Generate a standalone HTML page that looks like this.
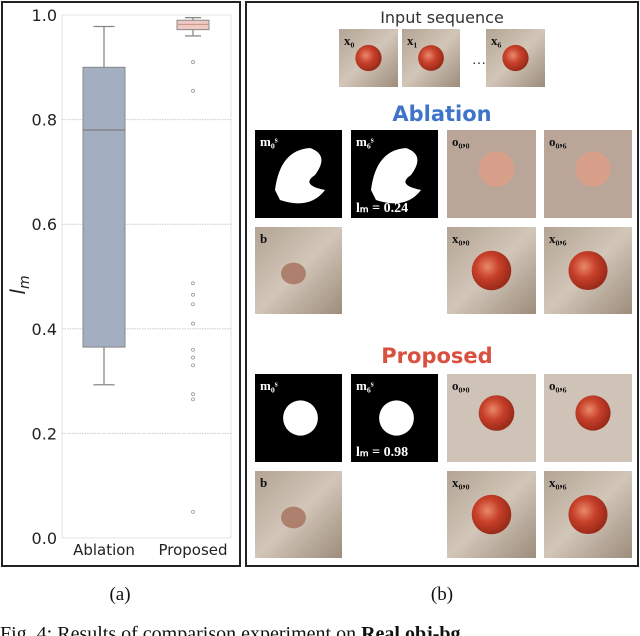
<!DOCTYPE html>
<html><head><meta charset="utf-8"><style>
body{margin:0;background:#fff;width:640px;height:636px;overflow:hidden}
svg{display:block}
.t{font-family:"DejaVu Sans","Liberation Sans",sans-serif}
.s{font-family:"Liberation Serif",serif}
</style></head><body>
<svg width="640" height="636" viewBox="0 0 640 636">
<defs>
<radialGradient id="tom" cx="0.4" cy="0.4" r="0.6"><stop offset="0" stop-color="#e88a6a"/><stop offset="0.5" stop-color="#c8402a"/><stop offset="1" stop-color="#9a2a1a"/></radialGradient>
<linearGradient id="wood" x1="0" y1="0" x2="1" y2="1"><stop offset="0" stop-color="#b3a494"/><stop offset="0.5" stop-color="#d2c6b8"/><stop offset="1" stop-color="#9c8c7c"/></linearGradient>
</defs>
<rect x="2" y="2" width="238" height="564" fill="none" stroke="#222" stroke-width="2"/>
<rect x="246" y="2" width="392" height="564" fill="none" stroke="#222" stroke-width="2"/>
<g id="chart"></g>
<g id="imgs"></g>
<text x="442" y="23" class="t" font-size="16" fill="#333" text-anchor="middle">Input sequence</text>
<text x="442" y="121" class="t" font-size="21" font-weight="bold" fill="#3f74c9" text-anchor="middle">Ablation</text>
<text x="437" y="363" class="t" font-size="21" font-weight="bold" fill="#d9503f" text-anchor="middle">Proposed</text>
<text x="472" y="64" class="s" font-size="14" fill="#222">…</text>
<text x="120" y="600" class="s" font-size="19" fill="#111" text-anchor="middle">(a)</text>
<text x="442" y="600" class="s" font-size="19" fill="#111" text-anchor="middle">(b)</text>
<text x="0" y="640" class="s" font-size="20" fill="#111">Fig. 4: Results of comparison experiment on <tspan font-weight="bold">Real obj-bg</tspan></text>
</svg>
<script>
const categories=["Ablation","Proposed"];
const q1=[0.365,0.972];
const medians=[0.78,0.982];
const q3=[0.90,0.99];
const whiskLo=[0.293,0.96];
const whiskHi=[0.978,0.995];
const outliersProposed=[0.91,0.855,0.487,0.465,0.447,0.41,0.36,0.345,0.33,0.275,0.265,0.05];
const yTicks=[0,0.2,0.4,0.6,0.8,1.0];
const fills=["#a3aec0","#efc9c4"];
const NS="http://www.w3.org/2000/svg";
const y=v=>538-v*523;
const xc=i=>[104,193][i];
const bw=[42,32];
const g=document.getElementById('chart');
function mk(t,a,p){const e=document.createElementNS(NS,t);for(const k in a)e.setAttribute(k,a[k]);(p||g).appendChild(e);return e;}
mk('rect',{x:62,y:15,width:169,height:523,fill:'none',stroke:'#e4e4e4'});
yTicks.forEach(v=>{
 if(v>0&&v<1){const l=mk('line',{x1:62,x2:231,y1:y(v),y2:y(v),stroke:'#ccc','stroke-dasharray':'1.5 1'});}
 const t=mk('text',{x:57,y:y(v)+6,'text-anchor':'end','font-size':16,fill:'#222',class:'t'});t.textContent=v.toFixed(1);
 
 
});
const yl=mk('text',{x:25,y:285,'font-size':20,fill:'#222',class:'t','font-style':'italic',transform:'rotate(-90 25 285)','text-anchor':'middle'});
yl.innerHTML='l<tspan font-size="14" dy="4">m</tspan>';


categories.forEach((c,i)=>{
 const x=xc(i),w=bw[i];
 mk('line',{x1:x,x2:x,y1:y(whiskHi[i]),y2:y(q3[i]),stroke:'#888','stroke-width':1.3});
 mk('line',{x1:x,x2:x,y1:y(q1[i]),y2:y(whiskLo[i]),stroke:'#888','stroke-width':1.3});
 mk('line',{x1:x-w/4,x2:x+w/4,y1:y(whiskHi[i]),y2:y(whiskHi[i]),stroke:'#888','stroke-width':1.3});
 mk('line',{x1:x-w/4,x2:x+w/4,y1:y(whiskLo[i]),y2:y(whiskLo[i]),stroke:'#888','stroke-width':1.3});
 const b=mk('rect',{x:x-w/2,y:y(q3[i]),width:w,height:y(q1[i])-y(q3[i]),fill:fills[i],stroke:'#888'});
 
 
 mk('line',{x1:x-w/2,x2:x+w/2,y1:y(medians[i]),y2:y(medians[i]),stroke:i?'#c99a8a':'#777','stroke-width':1.2});
 const t=mk('text',{x:x,y:555,'text-anchor':'middle','font-size':15,fill:'#222',class:'t'});t.textContent=c;
 
 
});
outliersProposed.forEach(v=>{
 const o=mk('circle',{cx:xc(1),cy:y(v),r:1.5,fill:'none',stroke:'#999','stroke-width':0.8});
 
 
});
const G=document.getElementById('imgs');
function tile(x,yy,w,h,kind,label,lm){
 const gg=mk('g',{},G);
  
 if(kind==='mask'||kind==='mask2'){
  mk('rect',{x,y:yy,width:w,height:h,fill:'#000'},gg);
  if(kind==='mask'){mk('path',{d:`M${x+20} ${yy+60} Q${x+25} ${yy+20} ${x+55} ${yy+18} Q${x+75} ${yy+25} ${x+60} ${yy+45} Q${x+45} ${yy+55} ${x+70} ${yy+60} Q${x+55} ${yy+80} ${x+25} ${yy+70}Z`,fill:'#fff'},gg);}
  else mk('ellipse',{cx:x+w/2+2,cy:yy+h/2,rx:w/5,ry:h/5,fill:'#fff'},gg);
 } else if(kind==='obj'||kind==='objbad'){
  mk('rect',{x,y:yy,width:w,height:h,fill:kind==='obj'?'#cfc2b6':'#b9a698'},gg);
  mk('circle',{cx:x+w/2+5,cy:yy+h/2-5,r:w/5,fill:kind==='obj'?'url(#tom)':'#d8a08a'},gg);
 } else {
  mk('rect',{x,y:yy,width:w,height:h,fill:'url(#wood)'},gg);
  if(kind!=='bg') mk('circle',{cx:x+w/2,cy:yy+h/2,r:w/4.5,fill:'url(#tom)'},gg);
  else mk('ellipse',{cx:x+w/2-5,cy:yy+h/2+3,rx:w/7,ry:h/8,fill:'#a0644e',opacity:0.7},gg);
 }
 const t=mk('text',{x:x+5,y:yy+16,'font-size':13,'font-weight':'bold',fill:kind.startsWith('mask')?'#fff':'#111',class:'s'},gg);
 t.textContent=label;
 if(lm){const l=mk('text',{x:x+5,y:yy+h-6,'font-size':14,'font-weight':'bold',fill:'#fff',class:'s'},gg);l.textContent=lm;}
}
tile(339,29,59,58,'img','x₀');tile(402,29,58,58,'img','x₁');tile(486,29,59,58,'img','x₆');
const cols=[255,351,447,544];
[[130,227,'mask','0.24','objbad'],[374,471,'mask2','0.98','obj']].forEach(r=>{
 tile(cols[0],r[0],87,88,r[2],'m₀ˢ');tile(cols[1],r[0],87,88,r[2],'m₆ˢ',null,);
 const lm=mk('text',{x:cols[1]+5,y:r[0]+82,'font-size':14,'font-weight':'bold',fill:'#fff',class:'s'},G);lm.textContent='lₘ = '+r[3];
 tile(cols[2],r[0],89,88,r[4],'o₀,₀');tile(cols[3],r[0],88,88,r[4],'o₀,₆');
 tile(cols[0],r[1],87,87,'bg','b');tile(cols[2],r[1],89,87,'img','x₀,₀');tile(cols[3],r[1],88,87,'img','x₀,₆');
});
</script>
</body></html>
